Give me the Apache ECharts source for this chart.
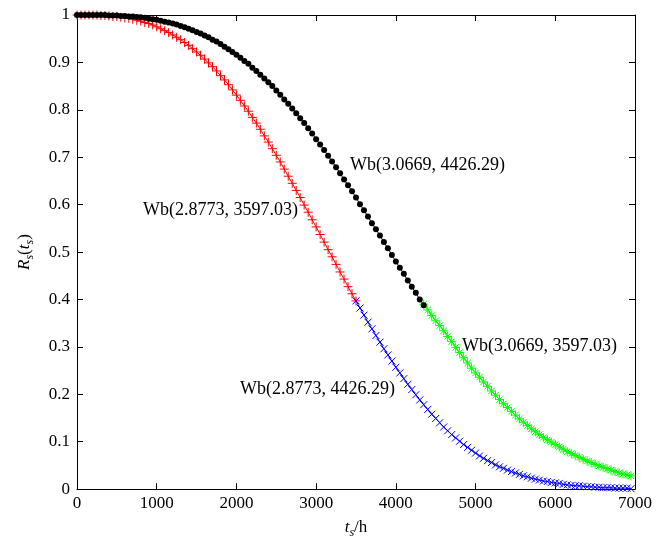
<!DOCTYPE html>
<html>
<head>
<meta charset="utf-8">
<script src="https://cdn.jsdelivr.net/npm/echarts@6/dist/echarts.min.js"></script>
<style>
  html, body { margin: 0; padding: 0; background: #fff; }
  #chart { width: 665px; height: 544px; }
</style>
</head>
<body>
<div id="chart"></div>
<script>
// sample times (h)
const hours = [
  0, 50, 100, 150, 200, 250, 300, 350, 400, 450,
  500, 550, 600, 650, 700, 750, 800, 850, 900, 950,
  1000, 1050, 1100, 1150, 1200, 1250, 1300, 1350, 1400, 1450,
  1500, 1550, 1600, 1650, 1700, 1750, 1800, 1850, 1900, 1950,
  2000, 2050, 2100, 2150, 2200, 2250, 2300, 2350, 2400, 2450,
  2500, 2550, 2600, 2650, 2700, 2750, 2800, 2850, 2900, 2950,
  3000, 3050, 3100, 3150, 3200, 3250, 3300, 3350, 3400, 3450,
  3500, 3550, 3600, 3650, 3700, 3750, 3800, 3850, 3900, 3950,
  4000, 4050, 4100, 4150, 4200, 4250, 4300, 4350, 4400, 4450,
  4500, 4550, 4600, 4650, 4700, 4750, 4800, 4850, 4900, 4950,
  5000, 5050, 5100, 5150, 5200, 5250, 5300, 5350, 5400, 5450,
  5500, 5550, 5600, 5650, 5700, 5750, 5800, 5850, 5900, 5950,
  6000, 6050, 6100, 6150, 6200, 6250, 6300, 6350, 6400, 6450,
  6500, 6550, 6600, 6650, 6700, 6750, 6800, 6850, 6900, 6950
];

// red "+" : 0 .. 3500 h
const redR = [
  1.000, 1.000, 1.000, 1.000, 1.000, 1.000, 0.999, 0.999, 0.998, 0.997,
  0.997, 0.995, 0.994, 0.993, 0.991, 0.989, 0.987, 0.984, 0.982, 0.979,
  0.975, 0.971, 0.967, 0.963, 0.958, 0.953, 0.948, 0.942, 0.936, 0.929,
  0.922, 0.915, 0.907, 0.899, 0.891, 0.882, 0.872, 0.863, 0.853, 0.842,
  0.831, 0.820, 0.808, 0.797, 0.784, 0.772, 0.759, 0.745, 0.732, 0.718,
  0.704, 0.690, 0.675, 0.660, 0.645, 0.630, 0.615, 0.599, 0.584, 0.568,
  0.553, 0.537, 0.521, 0.505, 0.490, 0.474, 0.458, 0.443, 0.427, 0.412,
  0.397
];
const redStart = 0;

// blue "x" : 3500 .. 6950 h
const blueR = [
  0.397, 0.382, 0.367, 0.352, 0.338, 0.324, 0.310, 0.296, 0.283, 0.270,
  0.257, 0.245, 0.233, 0.221, 0.210, 0.199, 0.188, 0.178, 0.168, 0.158,
  0.149, 0.140, 0.131, 0.123, 0.115, 0.108, 0.101, 0.094, 0.088, 0.082,
  0.076, 0.070, 0.065, 0.060, 0.056, 0.051, 0.047, 0.044, 0.040, 0.037,
  0.034, 0.031, 0.028, 0.026, 0.023, 0.021, 0.019, 0.017, 0.016, 0.014,
  0.013, 0.012, 0.010, 0.009, 0.008, 0.007, 0.007, 0.006, 0.005, 0.005,
  0.004, 0.004, 0.003, 0.003, 0.003, 0.002, 0.002, 0.002, 0.002, 0.001
];
const blueStart = 70;

// black dots : 0 .. 4350 h
const blackR = [
  1.000, 1.000, 1.000, 1.000, 1.000, 1.000, 1.000, 1.000, 0.999, 0.999,
  0.999, 0.998, 0.998, 0.997, 0.997, 0.996, 0.995, 0.994, 0.992, 0.991,
  0.990, 0.988, 0.986, 0.984, 0.982, 0.980, 0.977, 0.974, 0.971, 0.968,
  0.964, 0.961, 0.957, 0.953, 0.948, 0.944, 0.939, 0.933, 0.928, 0.922,
  0.916, 0.910, 0.903, 0.897, 0.889, 0.882, 0.874, 0.866, 0.858, 0.850,
  0.841, 0.832, 0.822, 0.813, 0.803, 0.793, 0.782, 0.772, 0.761, 0.750,
  0.738, 0.727, 0.715, 0.703, 0.691, 0.679, 0.666, 0.653, 0.641, 0.628,
  0.615, 0.601, 0.588, 0.575, 0.561, 0.548, 0.535, 0.521, 0.508, 0.494,
  0.480, 0.467, 0.454, 0.440, 0.427, 0.414, 0.400, 0.388
];
const blackStart = 0;

// green "*" : 4350 .. 6950 h
const greenR = [
  0.390, 0.378, 0.366, 0.355, 0.345, 0.334, 0.322, 0.311, 0.299, 0.288,
  0.277, 0.266, 0.255, 0.245, 0.236, 0.226, 0.217, 0.207, 0.198, 0.189,
  0.180, 0.172, 0.164, 0.156, 0.148, 0.141, 0.134, 0.127, 0.121, 0.115,
  0.109, 0.104, 0.099, 0.094, 0.089, 0.084, 0.079, 0.075, 0.071, 0.067,
  0.063, 0.059, 0.056, 0.052, 0.049, 0.046, 0.043, 0.040, 0.037, 0.034,
  0.032, 0.030, 0.028
];
const greenStart = 87;

const curveLabels = [
  { text: 'Wb(3.0669, 4426.29)', at: [3425, 0.684] },
  { text: 'Wb(2.8773, 3597.03)', at: [828, 0.589] },
  { text: 'Wb(3.0669, 3597.03)', at: [4830, 0.301] },
  { text: 'Wb(2.8773, 4426.29)', at: [2045, 0.2105] }
];

const FONT = '"Liberation Serif", "Times New Roman", serif';
const PLUS = 'path://M0,5L10,5M5,0L5,10';
const CROSS = 'path://M0,0L10,10M0,10L10,0';
const STAR = 'path://M5,0L5,10M0,5L10,5M1.5,1.5L8.5,8.5M1.5,8.5L8.5,1.5';

function pairs(values, start) {
  return values.map((v, i) => [hours[start + i], v]);
}

function curve(name, values, start, color, symbol, size, filled) {
  return {
    name: name,
    type: 'line',
    data: pairs(values, start),
    symbol: symbol,
    symbolSize: size,
    showAllSymbol: true,
    animation: false,
    lineStyle: { color: color, width: 1 },
    itemStyle: {
      color: filled ? color : 'rgba(0,0,0,0)',
      borderColor: color,
      borderWidth: filled ? 0 : 1
    },
    emphasis: { disabled: true },
    z: 2
  };
}

const chart = echarts.init(document.getElementById('chart'));

const baseAxis = {
  axisLine: { show: true, onZero: false, lineStyle: { color: '#000', width: 1 } },
  axisTick: { show: true, inside: true, length: 6, lineStyle: { color: '#000' } },
  splitLine: { show: false }
};

const richName = {
  it: { fontFamily: FONT, fontSize: 17, fontStyle: 'italic', color: '#000', verticalAlign: 'top', lineHeight: 20 },
  sub: { fontFamily: FONT, fontSize: 12, fontStyle: 'italic', color: '#000', verticalAlign: 'bottom', lineHeight: 20, padding: [10, 0, 0, 0] },
  n: { fontFamily: FONT, fontSize: 17, color: '#000', verticalAlign: 'top', lineHeight: 20 }
};

const option = {
  backgroundColor: '#fff',
  animation: false,
  grid: { left: 77, right: 30, top: 15, bottom: 54 },
  xAxis: [
    {
      ...baseAxis,
      type: 'value',
      min: 0,
      max: 7000,
      interval: 1000,
      position: 'bottom',
      axisLabel: {
        color: '#000', fontFamily: FONT, fontSize: 17, margin: 6,
        formatter: function (v) { return String(v); }
      },
      name: '{it|t}{sub|s}{n|/h}',
      nameLocation: 'middle',
      nameGap: 29,
      nameTextStyle: { color: '#000', fontFamily: FONT, rich: richName }
    },
    {
      ...baseAxis,
      type: 'value',
      min: 0,
      max: 7000,
      interval: 1000,
      position: 'top',
      axisLabel: { show: false }
    }
  ],
  yAxis: [
    {
      ...baseAxis,
      type: 'value',
      min: 0,
      max: 1,
      interval: 0.1,
      position: 'left',
      axisLabel: { color: '#000', fontFamily: FONT, fontSize: 17, margin: 7 },
      name: '{it|R}{sub|s}{n|(}{it|t}{sub|s}{n|)}',
      nameLocation: 'middle',
      nameRotate: 90,
      nameGap: 41,
      nameTextStyle: { color: '#000', fontFamily: FONT, rich: richName }
    },
    {
      ...baseAxis,
      type: 'value',
      min: 0,
      max: 1,
      interval: 0.1,
      position: 'right',
      axisLabel: { show: false }
    }
  ],
  series: [
    curve('red', redR, redStart, '#ff0000', PLUS, 9, false),
    curve('blue', blueR, blueStart, '#0000ff', CROSS, 7, false),
    curve('green', greenR, greenStart, '#00ff00', STAR, 9, false),
    curve('black', blackR, blackStart, '#000000', 'circle', 6, true)
  ]
};

chart.setOption(option);

chart.setOption({
  graphic: curveLabels.map(function (l) {
    const p = chart.convertToPixel({ xAxisIndex: 0, yAxisIndex: 0 }, l.at);
    return {
      type: 'text',
      x: p[0],
      y: p[1],
      z: 10,
      style: {
        text: l.text,
        fontFamily: FONT,
        fontSize: 18,
        fill: '#000',
        align: 'left',
        verticalAlign: 'middle'
      }
    };
  })
});
</script>
</body>
</html>
